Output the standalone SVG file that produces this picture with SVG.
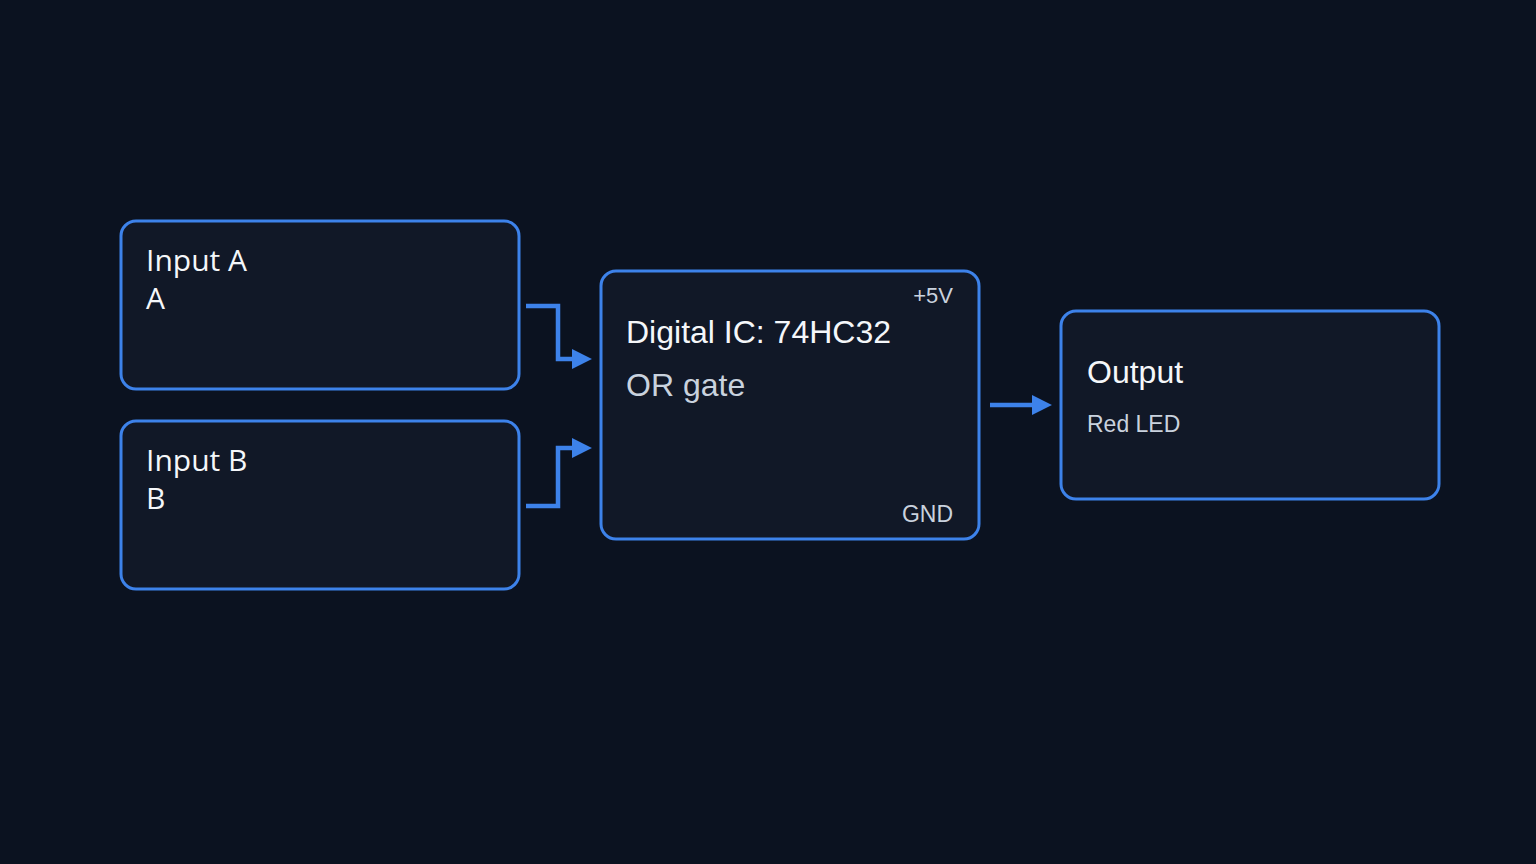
<svg xmlns="http://www.w3.org/2000/svg" width="1536" height="864" viewBox="0 0 1536 864">
<defs>
<style>
.box{fill:#111827;stroke:#3d82ea;stroke-width:3}
.t1{font-family:"Open Sans","Noto Sans",sans-serif;font-size:30px;fill:#f5f7fa}
.t2{font-family:"Liberation Sans",Arial,sans-serif;font-size:32px;fill:#f5f7fa}
.t3{font-family:"Liberation Sans",Arial,sans-serif;font-size:32px;fill:#c9d2de}
.t4{font-family:"Liberation Sans",Arial,sans-serif;font-size:22px;fill:#c9d2de}
.t5{font-family:"Liberation Sans",Arial,sans-serif;font-size:23px;fill:#c9d2de}
.wire{fill:none;stroke:#3d82ea;stroke-width:4.5}
</style>
<marker id="arr" markerUnits="userSpaceOnUse" markerWidth="20" markerHeight="20" viewBox="0 0 19 19" refX="1" refY="9.5" orient="auto">
<path d="M0,0 L19,9.5 L0,19 z" fill="#3d82ea"/>
</marker>
</defs>
<rect width="1536" height="864" fill="#0b1220"/>
<g id="connectors">
<path class="wire" d="M526,306 H558 V359 H573" marker-end="url(#arr)"/>
<path class="wire" d="M526,506 H558 V448 H573" marker-end="url(#arr)"/>
<path class="wire" d="M990,405 H1033" marker-end="url(#arr)"/>
</g>
<g id="inputA">
<rect class="box" x="121" y="221" width="398" height="168" rx="15"/>
<text class="t1" x="146" y="271">Input A</text>
<text class="t1" x="146" y="309">A</text>
</g>
<g id="inputB">
<rect class="box" x="121" y="421" width="398" height="168" rx="15"/>
<text class="t1" x="146" y="471">Input B</text>
<text class="t1" x="146" y="509">B</text>
</g>
<g id="ic">
<rect class="box" x="601" y="271" width="378" height="268" rx="15"/>
<text class="t4" x="953" y="303" text-anchor="end">+5V</text>
<text class="t2" x="626" y="343">Digital IC: 74HC32</text>
<text class="t3" x="626" y="396">OR gate</text>
<text class="t5" x="953" y="522" text-anchor="end">GND</text>
</g>
<g id="output">
<rect class="box" x="1061" y="311" width="378" height="188" rx="15"/>
<text class="t2" x="1087" y="383">Output</text>
<text class="t5" x="1087" y="432">Red LED</text>
</g>
</svg>
